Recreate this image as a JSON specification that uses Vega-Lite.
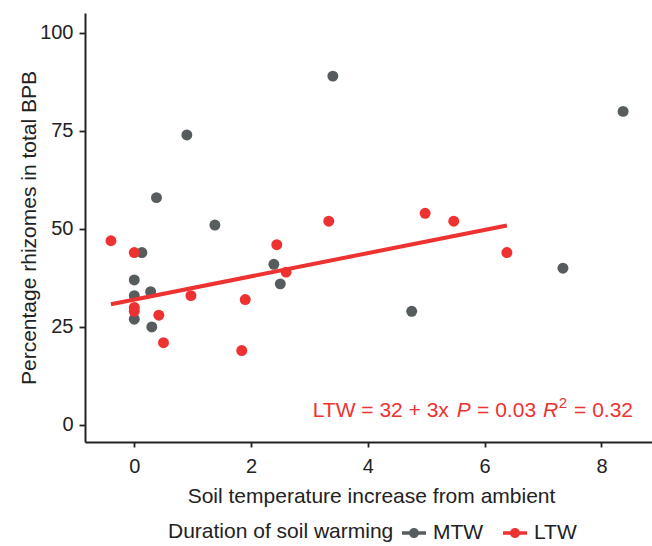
{
  "$schema": "https://vega.github.io/schema/vega-lite/v6.json",
  "width": 567,
  "height": 429,
  "autosize": {"type": "none"},
  "padding": {"left": 85, "top": 13, "right": 0, "bottom": 104},
  "background": "white",
  "config": {
    "view": {"stroke": null},
    "font": "Liberation Sans",
    "axis": {
      "grid": false,
      "domainColor": "#222222",
      "domainWidth": 2,
      "tickColor": "#222222",
      "tickWidth": 1.8,
      "labelFont": "Liberation Sans",
      "labelFontSize": 20,
      "labelColor": "#222222",
      "titleFont": "Liberation Sans",
      "titleFontSize": 21,
      "titleFontWeight": "normal",
      "titleColor": "#222222"
    }
  },
  "datasets": {
    "pts": [
      {"group": "MTW", "temp": 3.40, "pct": 89},
      {"group": "MTW", "temp": 8.37, "pct": 80},
      {"group": "MTW", "temp": 0.90, "pct": 74},
      {"group": "MTW", "temp": 0.38, "pct": 58},
      {"group": "MTW", "temp": 1.38, "pct": 51},
      {"group": "MTW", "temp": 0.13, "pct": 44},
      {"group": "MTW", "temp": 2.39, "pct": 41},
      {"group": "MTW", "temp": 2.50, "pct": 36},
      {"group": "MTW", "temp": 7.34, "pct": 40},
      {"group": "MTW", "temp": 4.75, "pct": 29},
      {"group": "MTW", "temp": 0.00, "pct": 37},
      {"group": "MTW", "temp": 0.00, "pct": 33},
      {"group": "MTW", "temp": 0.28, "pct": 34},
      {"group": "MTW", "temp": 0.00, "pct": 27},
      {"group": "MTW", "temp": 0.30, "pct": 25},
      {"group": "LTW", "temp": -0.40, "pct": 47},
      {"group": "LTW", "temp": 0.00, "pct": 44},
      {"group": "LTW", "temp": 0.00, "pct": 30},
      {"group": "LTW", "temp": 0.00, "pct": 29},
      {"group": "LTW", "temp": 0.42, "pct": 28},
      {"group": "LTW", "temp": 0.50, "pct": 21},
      {"group": "LTW", "temp": 0.97, "pct": 33},
      {"group": "LTW", "temp": 1.90, "pct": 32},
      {"group": "LTW", "temp": 1.84, "pct": 19},
      {"group": "LTW", "temp": 2.44, "pct": 46},
      {"group": "LTW", "temp": 2.60, "pct": 39},
      {"group": "LTW", "temp": 3.33, "pct": 52},
      {"group": "LTW", "temp": 4.98, "pct": 54},
      {"group": "LTW", "temp": 5.47, "pct": 52},
      {"group": "LTW", "temp": 6.38, "pct": 44}
    ],
    "note": [
      {"part": "LTW = 32 + 3x", "style": "normal", "px": 3.055, "py": 2.12, "fs": 21},
      {"part": "P", "style": "italic", "px": 5.52, "py": 2.12, "fs": 21},
      {"part": "= 0.03", "style": "normal", "px": 5.87, "py": 2.12, "fs": 21},
      {"part": "R", "style": "italic", "px": 7.0, "py": 2.12, "fs": 21},
      {"part": "2", "style": "normal", "px": 7.27, "py": 4.3, "fs": 15},
      {"part": "= 0.32", "style": "normal", "px": 7.53, "py": 2.12, "fs": 21}
    ]
  },
  "layer": [
    {
      "mark": {"type": "rule", "color": "#222222", "strokeWidth": 2},
      "encoding": {"y": {"datum": 105.1, "scale": {"domain": [-4.34, 105.1], "nice": false, "zero": false}}}
    },
    {
      "data": {"name": "pts"},
      "mark": {"type": "point", "filled": true, "size": 120, "opacity": 1, "strokeWidth": 0},
      "encoding": {
        "x": {
          "field": "temp", "type": "quantitative",
          "scale": {"domain": [-0.844, 8.865], "nice": false, "zero": false},
          "axis": {
            "title": "Soil temperature increase from ambient",
            "values": [0, 2, 4, 6, 8],
            "format": "d",
            "tickSize": 5,
            "labelPadding": 9,
            "titleX": 286,
            "titleY": 60,
            "titleBaseline": "alphabetic",
            "titleAlign": "center"
          }
        },
        "y": {
          "field": "pct", "type": "quantitative",
          "scale": {"domain": [-4.34, 105.1], "nice": false, "zero": false},
          "axis": {
            "title": "Percentage rhizomes in total BPB",
            "values": [0, 25, 50, 75, 100],
            "format": "d",
            "tickSize": 6,
            "labelPadding": 6,
            "titleX": -50,
            "titleY": 214.5,
            "titleAngle": 270,
            "titleBaseline": "alphabetic",
            "titleAlign": "center"
          }
        },
        "color": {
          "field": "group", "type": "nominal",
          "scale": {"domain": ["MTW", "LTW"], "range": ["#575d5e", "#ee3131"]},
          "legend": {
            "title": "Duration of soil warming",
            "orient": "none",
            "legendX": 83,
            "legendY": 508,
            "direction": "horizontal",
            "titleOrient": "left",
            "titleFontSize": 21,
            "titleFontWeight": "normal",
            "titleColor": "#222222",
            "titleFont": "Liberation Sans",
            "titleBaseline": "middle",
            "titleLimit": 500,
            "titlePadding": 8,
            "labelFontSize": 21,
            "labelColor": "#222222",
            "labelFont": "Liberation Sans",
            "labelLimit": 200,
            "labelOffset": 7,
            "columnPadding": 19,
            "padding": 0,
            "symbolType": "M-1,-0.14H1V0.14H-1Z M0.417,0A0.417,0.417,0,1,1,-0.417,0A0.417,0.417,0,1,1,0.417,0Z",
            "symbolSize": 576,
            "symbolStrokeWidth": 0,
            "symbolOpacity": 1
          }
        }
      }
    },
    {
      "data": {"name": "pts"},
      "transform": [
        {"filter": "datum.group === 'LTW'"},
        {"regression": "pct", "on": "temp"}
      ],
      "mark": {"type": "line", "color": "#ee3131", "strokeWidth": 4, "strokeCap": "butt"},
      "encoding": {
        "x": {"field": "temp", "type": "quantitative"},
        "y": {"field": "pct", "type": "quantitative"}
      }
    },
    {
      "data": {"name": "note"},
      "transform": [{"filter": "datum.style === 'normal'"}],
      "mark": {"type": "text", "color": "#ee3131", "align": "left", "baseline": "alphabetic", "font": "Liberation Sans", "fontStyle": "normal"},
      "encoding": {
        "x": {"field": "px", "type": "quantitative"},
        "y": {"field": "py", "type": "quantitative"},
        "text": {"field": "part"},
        "size": {"field": "fs", "type": "quantitative", "scale": null}
      }
    },
    {
      "data": {"name": "note"},
      "transform": [{"filter": "datum.style === 'italic'"}],
      "mark": {"type": "text", "color": "#ee3131", "align": "left", "baseline": "alphabetic", "font": "Liberation Sans", "fontStyle": "italic"},
      "encoding": {
        "x": {"field": "px", "type": "quantitative"},
        "y": {"field": "py", "type": "quantitative"},
        "text": {"field": "part"},
        "size": {"field": "fs", "type": "quantitative", "scale": null}
      }
    }
  ]
}
